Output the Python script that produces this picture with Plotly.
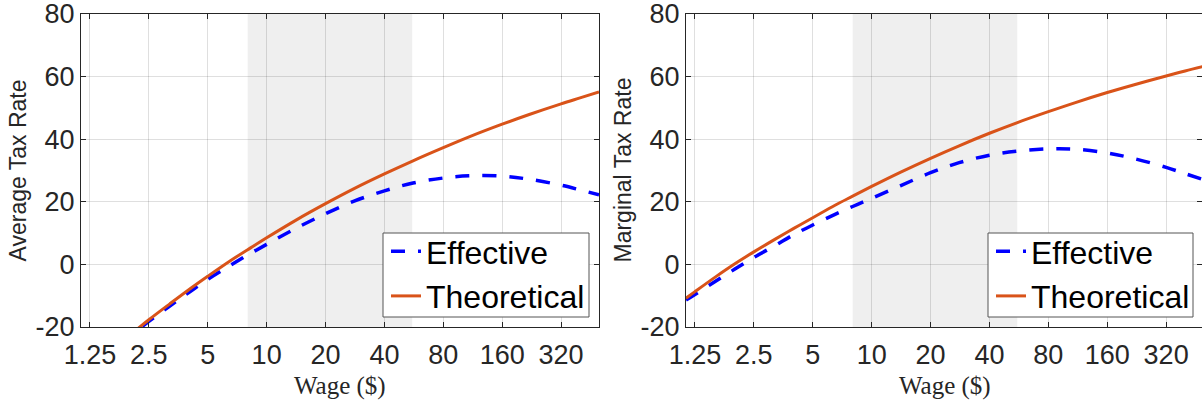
import plotly.graph_objects as go
import math

# ---------------- data ----------------
wage = [1.125, 1.25, 1.6, 2, 2.5, 3.2, 4, 5, 6.5, 8, 10, 14, 20, 28, 40, 56, 80, 110, 160, 220, 320, 400, 500]

avg_effective = [-36.6, -34.0, -28.1, -23.0, -18.2, -13.3, -9.0, -4.8, -0.4, 3.0, 6.4, 11.4, 16.2, 20.2, 23.5,
                 26.0, 27.6, 28.3, 28.2, 27.2, 25.3, 23.8, 22.2]
avg_theoretical = [-36.2, -33.6, -27.7, -22.6, -17.7, -12.6, -8.1, -3.8, 1.1, 4.7, 8.5, 14.0, 19.4, 24.2, 28.9,
                   33.1, 37.3, 40.9, 44.8, 47.9, 51.3, 53.2, 55.1]

marg_effective = [-11.4, -9.6, -5.3, -1.5, 2.2, 6.0, 9.5, 12.6, 16.0, 18.5, 21.1, 25.1, 29.3, 32.5, 34.9,
                  36.2, 36.9, 36.8, 35.6, 33.8, 31.0, 29.0, 27.0]
marg_theoretical = [-10.8, -8.7, -3.9, 0.2, 4.0, 8.0, 11.5, 14.9, 18.9, 21.8, 24.9, 29.4, 33.9, 37.9, 41.9,
                    45.4, 48.8, 51.7, 54.9, 57.4, 60.2, 61.8, 63.3]

shade_range = [8, 55.5]

x_tick_vals = [1.25, 2.5, 5, 10, 20, 40, 80, 160, 320]
x_tick_text = ["1.25", "2.5", "5", "10", "20", "40", "80", "160", "320"]
y_tick_vals = [-20, 0, 20, 40, 60, 80]
y_tick_text = ["-20", "0", "20", "40", "60", "80"]

series_names = ["Effective", "Theoretical"]
y_titles = ["Average Tax Rate", "Marginal Tax Rate"]
x_title = "Wage ($)"

# ---------------- styles ----------------
W, H = 1202, 402
BLUE = "#0000FF"
ORANGE = "#D95319"
AX = "#262626"
GRID = "rgba(38,38,38,0.15)"
SANS = "Liberation Sans, Arial, sans-serif"
SERIF = "Liberation Serif, Times New Roman, serif"

def px_x(p):
    return p / W

def px_y(p):
    return 1 - p / H

fig = go.Figure()

panels = [
    dict(xa="x", ya="y", leg="legend", eff=avg_effective, th=avg_theoretical, box=(383, 589)),
    dict(xa="x2", ya="y2", leg="legend2", eff=marg_effective, th=marg_theoretical, box=(988, 1193)),
]
for p in panels:
    fig.add_trace(go.Scatter(x=wage, y=p["eff"], name=series_names[0], mode="lines",
                             line=dict(color=BLUE, width=3.5, dash="14px,13px", shape="spline", smoothing=1),
                             xaxis=p["xa"], yaxis=p["ya"], legend=p["leg"]))
    fig.add_trace(go.Scatter(x=wage, y=p["th"], name=series_names[1], mode="lines",
                             line=dict(color=ORANGE, width=3, shape="spline", smoothing=1),
                             xaxis=p["xa"], yaxis=p["ya"], legend=p["leg"]))
    fig.add_shape(type="rect", xref=p["xa"], yref=p["ya"], x0=shade_range[0], x1=shade_range[1],
                  y0=-20, y1=80, fillcolor="#EFEFEF", line=dict(width=0), layer="below")
    # legend frame
    fig.add_shape(type="rect", xref="paper", yref="paper", x0=px_x(p["box"][0]), x1=px_x(p["box"][1]),
                  y0=px_y(317), y1=px_y(233), fillcolor="white", line=dict(color="#555555", width=1),
                  layer="above")

ydom = [px_y(327), px_y(14)]
common_x = dict(type="log", tickvals=x_tick_vals, ticktext=x_tick_text, showgrid=True, gridcolor=GRID,
                gridwidth=1, showline=True, linecolor=AX, linewidth=1, mirror="ticks", ticks="inside",
                ticklen=5, tickcolor=AX, tickwidth=1, tickfont=dict(family=SANS, size=27, color=AX),
                ticklabelstandoff=4, zeroline=False, automargin=False, ticklabeloverflow="allow")
common_y = dict(range=[-20, 80], tickvals=y_tick_vals, ticktext=y_tick_text, showgrid=True, gridcolor=GRID,
                gridwidth=1, showline=True, linecolor=AX, linewidth=1, mirror="ticks", ticks="inside",
                ticklen=5, tickcolor=AX, tickwidth=1, tickfont=dict(family=SANS, size=27, color=AX),
                ticklabelstandoff=0, zeroline=False, domain=ydom, automargin=False,
                ticklabeloverflow="allow")

leg_common = dict(xanchor="left", yanchor="middle", bgcolor="rgba(0,0,0,0)", borderwidth=0,
                  font=dict(family=SANS, size=32, color="black"), tracegroupgap=0)

fig.update_layout(
    width=W, height=H, margin=dict(l=0, r=0, t=0, b=0, autoexpand=False),
    plot_bgcolor="white", paper_bgcolor="white", showlegend=True,
    xaxis=dict(common_x, domain=[px_x(81), px_x(599)], range=[math.log10(1.125), math.log10(500)], anchor="y"),
    yaxis=dict(common_y, anchor="x"),
    xaxis2=dict(common_x, domain=[px_x(686), 1.0], range=[math.log10(1.125), math.log10(488)], anchor="y2"),
    yaxis2=dict(common_y, anchor="x2"),
    legend=dict(leg_common, x=px_x(386), y=px_y(274)),
    legend2=dict(leg_common, x=px_x(991), y=px_y(274)),
)

# axis titles
for cx in [340, 945]:
    fig.add_annotation(text=x_title, x=px_x(cx), y=px_y(386), xref="paper", yref="paper",
                       showarrow=False, font=dict(family=SERIF, size=25, color=AX),
                       xanchor="center", yanchor="middle")
for cx, t in zip([17, 622], y_titles):
    fig.add_annotation(text=t, x=px_x(cx), y=px_y(170.5), xref="paper", yref="paper",
                       showarrow=False, textangle=-90, font=dict(family=SANS, size=23, color=AX),
                       xanchor="center", yanchor="middle")

fig.write_html("out.html")
